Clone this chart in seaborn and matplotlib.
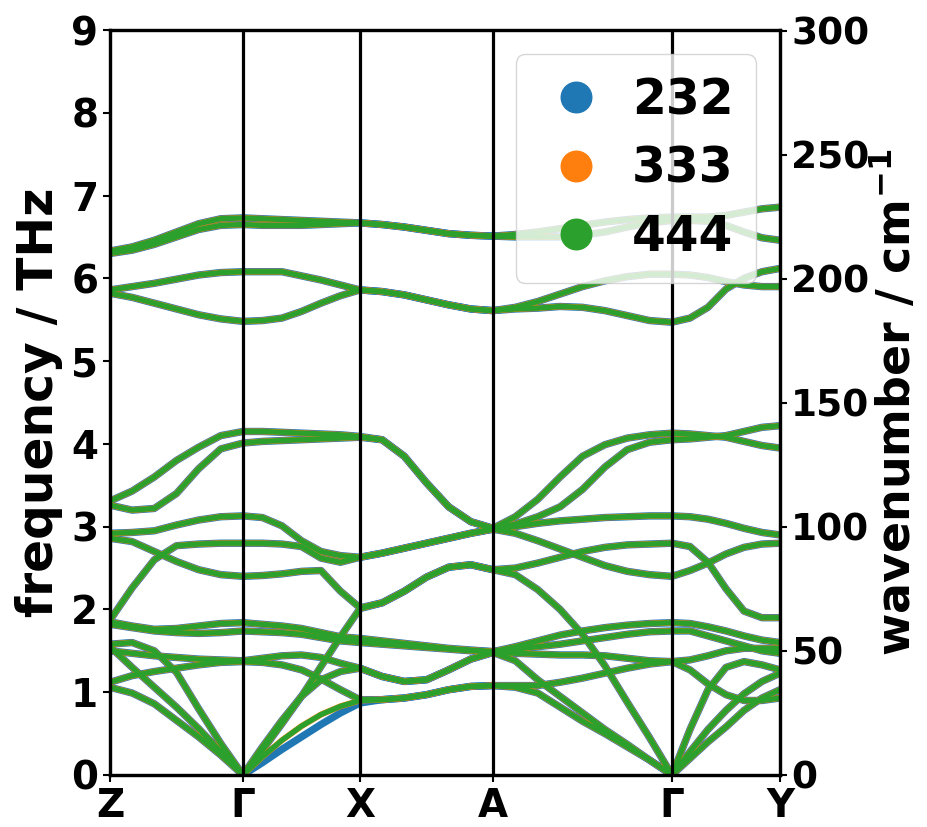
import numpy as np
import pandas as pd
import matplotlib
matplotlib.use("Agg")
import matplotlib.pyplot as plt
from matplotlib.lines import Line2D
import seaborn as sns

# ---------------------------------------------------------------------------
# High-symmetry path and sampling
# ---------------------------------------------------------------------------
path_labels = ["Z", "Γ", "X", "A", "Γ", "Y"]
segment_lengths = [1.33, 1.17, 1.33, 1.79, 1.08]   # Z-Γ, Γ-X, X-A, A-Γ, Γ-Y
segment_intervals = [6, 6, 6, 8, 6]

mesh_labels = ["232", "333", "444"]
mesh_colors = ["#1f77b4", "#ff7f0e", "#2ca02c"]
mesh_widths = [5.3, 4.3, 3.8]

THZ_TO_CM = 33.35641

# ---------------------------------------------------------------------------
# Phonon branches (THz), sampled along Z-Γ | Γ-X | X-A | A-Γ | Γ-Y
# ---------------------------------------------------------------------------
band_ta1 = [1.06, 0.99, 0.86, 0.66, 0.46, 0.24, 0.00,
            0.22, 0.42, 0.59, 0.73, 0.83, 0.90,
            0.91, 0.93, 0.97, 1.03, 1.07, 1.08,
            1.06, 0.99, 0.82, 0.65, 0.50, 0.34, 0.18, 0.00,
            0.20, 0.40, 0.58, 0.78, 0.93, 1.03]
band_g = [1.12, 1.20, 1.25, 1.29, 1.33, 1.36, 1.37,
          1.36, 1.33, 1.27, 1.16, 1.03, 0.91,
          0.91, 0.93, 0.97, 1.03, 1.07, 1.08,
          1.08, 1.08, 1.12, 1.17, 1.23, 1.29, 1.34, 1.37,
          1.39, 1.44, 1.50, 1.53, 1.53, 1.53]
band_ta2 = [1.58, 1.60, 1.50, 1.24, 0.80, 0.38, 0.00,
            0.34, 0.66, 0.95, 1.15, 1.25, 1.29,
            1.19, 1.13, 1.15, 1.27, 1.40, 1.48,
            1.38, 1.15, 0.95, 0.75, 0.55, 0.37, 0.18, 0.00,
            0.28, 0.55, 0.78, 0.98, 1.13, 1.23]
band_j = [1.50, 1.47, 1.44, 1.42, 1.40, 1.39, 1.38,
          1.41, 1.44, 1.45, 1.42, 1.35, 1.29,
          1.19, 1.13, 1.15, 1.27, 1.40, 1.48,
          1.47, 1.46, 1.45, 1.45, 1.44, 1.41, 1.38, 1.37,
          1.27, 1.10, 0.97, 0.90, 0.90, 0.93]
band_la = [1.55, 1.30, 1.06, 0.82, 0.56, 0.28, 0.00,
           0.30, 0.62, 0.95, 1.31, 1.67, 2.01,
           2.08, 2.22, 2.39, 2.51, 2.54, 2.48,
           2.42, 2.24, 2.00, 1.70, 1.32, 0.88, 0.45, 0.00,
           0.55, 1.03, 1.30, 1.37, 1.33, 1.27]
band_e = [1.82, 1.78, 1.74, 1.72, 1.71, 1.72, 1.74,
          1.73, 1.72, 1.70, 1.66, 1.62, 1.60,
          1.58, 1.56, 1.54, 1.52, 1.50, 1.49,
          1.52, 1.55, 1.58, 1.62, 1.66, 1.70, 1.73, 1.74,
          1.74, 1.68, 1.62, 1.56, 1.50, 1.47]
band_d = [1.85, 1.80, 1.76, 1.77, 1.80, 1.83, 1.84,
          1.82, 1.80, 1.77, 1.72, 1.67, 1.65,
          1.62, 1.59, 1.56, 1.53, 1.51, 1.49,
          1.55, 1.62, 1.69, 1.74, 1.78, 1.81, 1.83, 1.84,
          1.83, 1.79, 1.74, 1.68, 1.63, 1.60]
band_b = [2.86, 2.82, 2.70, 2.58, 2.48, 2.42, 2.40,
          2.41, 2.43, 2.46, 2.47, 2.22, 2.02,
          2.08, 2.22, 2.39, 2.51, 2.54, 2.48,
          2.50, 2.56, 2.63, 2.70, 2.75, 2.78, 2.79, 2.80,
          2.76, 2.57, 2.25, 1.98, 1.90, 1.90]
band_c = [1.87, 2.26, 2.60, 2.77, 2.79, 2.80, 2.80,
          2.80, 2.79, 2.76, 2.62, 2.57, 2.63,
          2.68, 2.74, 2.80, 2.86, 2.92, 2.97,
          2.92, 2.83, 2.73, 2.63, 2.53, 2.46, 2.42, 2.40,
          2.47, 2.56, 2.67, 2.75, 2.79, 2.80]
band_a = [2.92, 2.93, 2.95, 3.02, 3.08, 3.12, 3.13,
          3.11, 3.01, 2.83, 2.70, 2.65, 2.63,
          2.68, 2.74, 2.80, 2.86, 2.92, 2.97,
          3.00, 3.04, 3.07, 3.09, 3.11, 3.12, 3.13, 3.13,
          3.12, 3.09, 3.04, 2.98, 2.93, 2.90]
band_l4 = [3.26, 3.20, 3.22, 3.40, 3.70, 3.94, 4.01,
           4.03, 4.04, 4.05, 4.06, 4.07, 4.08,
           4.05, 3.85, 3.53, 3.24, 3.06, 2.98,
           3.03, 3.12, 3.24, 3.45, 3.72, 3.93, 4.02, 4.05,
           4.06, 4.08, 4.10, 4.15, 4.20, 4.22]
band_u4 = [3.31, 3.43, 3.60, 3.80, 3.96, 4.10, 4.15,
           4.15, 4.14, 4.13, 4.12, 4.11, 4.09,
           4.05, 3.85, 3.53, 3.24, 3.06, 2.98,
           3.12, 3.33, 3.60, 3.85, 3.99, 4.07, 4.11, 4.13,
           4.12, 4.10, 4.08, 4.03, 3.98, 3.95]
band_m_low = [5.82, 5.77, 5.70, 5.63, 5.56, 5.51, 5.48,
              5.49, 5.52, 5.60, 5.70, 5.79, 5.86,
              5.84, 5.80, 5.74, 5.68, 5.63, 5.61,
              5.63, 5.64, 5.66, 5.65, 5.61, 5.55, 5.49, 5.47,
              5.52, 5.65, 5.87, 6.00, 6.08, 6.12]
band_m_up = [5.86, 5.90, 5.94, 5.99, 6.04, 6.07, 6.08,
             6.08, 6.08, 6.03, 5.98, 5.92, 5.86,
             5.84, 5.80, 5.74, 5.68, 5.63, 5.61,
             5.65, 5.72, 5.81, 5.90, 5.97, 6.02, 6.05, 6.05,
             6.04, 6.01, 5.96, 5.92, 5.90, 5.90]
band_h_low = [6.30, 6.34, 6.41, 6.50, 6.59, 6.64, 6.65,
              6.64, 6.64, 6.64, 6.65, 6.66, 6.67,
              6.65, 6.62, 6.58, 6.54, 6.52, 6.51,
              6.50, 6.50, 6.50, 6.52, 6.56, 6.62, 6.67, 6.70,
              6.70, 6.69, 6.64, 6.56, 6.49, 6.46]
band_h_up = [6.33, 6.38, 6.46, 6.56, 6.66, 6.72, 6.73,
             6.72, 6.71, 6.70, 6.69, 6.68, 6.67,
             6.65, 6.62, 6.58, 6.54, 6.52, 6.51,
             6.53, 6.56, 6.60, 6.64, 6.68, 6.71, 6.73, 6.74,
             6.74, 6.74, 6.76, 6.80, 6.84, 6.86]

# the coarse 232 mesh gives a softer lowest branch along Γ-X
ta1_gx_232 = [0.15, 0.31, 0.46, 0.61, 0.75, 0.87]

bands_common = {
    "ta1": band_ta1, "g": band_g, "ta2": band_ta2, "j": band_j,
    "la": band_la, "e": band_e, "d": band_d, "b": band_b, "c": band_c,
    "a": band_a, "l4": band_l4, "u4": band_u4, "m_low": band_m_low,
    "m_up": band_m_up, "h_low": band_h_low, "h_up": band_h_up,
}

# ---------------------------------------------------------------------------
# Path coordinate of every sampled q-point
# ---------------------------------------------------------------------------
kdist = [0.0]
start = 0.0
for length, n in zip(segment_lengths, segment_intervals):
    for i in range(1, n + 1):
        kdist.append(start + length * i / n)
    start += length
kdist = np.array(kdist)
node_pos = np.concatenate([[0.0], np.cumsum(segment_lengths)])

rows = []
for mesh in mesh_labels:
    for name, freqs in bands_common.items():
        freqs = list(freqs)
        if mesh == "232" and name == "ta1":
            freqs[7:13] = ta1_gx_232
        for kk, f in zip(kdist, freqs):
            rows.append({"mesh": mesh, "band": name, "k": kk, "freq": f})
df = pd.DataFrame(rows)

# ---------------------------------------------------------------------------
# Figure
# ---------------------------------------------------------------------------
sns.set_style("ticks")
plt.rcParams["font.family"] = ["DejaVu Sans"]
plt.rcParams.update({
    "font.weight": "bold",
    "axes.labelweight": "bold",
    "mathtext.default": "regular",
    "text.color": "black",
    "axes.labelcolor": "black",
    "axes.edgecolor": "black",
    "xtick.color": "black",
    "ytick.color": "black",
})

fig = plt.figure(figsize=(9.28, 8.27), dpi=100)
ax = fig.add_axes([0.1185, 0.0629, 0.722, 0.9008])

sns.lineplot(
    data=df, x="k", y="freq", hue="mesh", size="mesh", units="band",
    estimator=None, sort=False,
    palette=dict(zip(mesh_labels, mesh_colors)),
    sizes=dict(zip(mesh_labels, mesh_widths)),
    hue_order=mesh_labels, size_order=mesh_labels,
    legend=False, ax=ax,
)

for pos in node_pos[1:-1]:
    ax.axvline(pos, color="black", lw=2.3, zorder=5)

ax.set_xlim(node_pos[0], node_pos[-1])
ax.set_ylim(0, 9)
ax.set_xticks(node_pos)
ax.set_xticklabels(path_labels)
ax.set_yticks(range(0, 10))
ax.set_xlabel("")
ax.set_ylabel("frequency / THz", fontsize=35, fontweight="bold", labelpad=6)
ax.tick_params(axis="both", labelsize=28, width=1.5, length=5)
for lab in ax.get_xticklabels() + ax.get_yticklabels():
    lab.set_fontweight("bold")
for side in ax.spines.values():
    side.set_linewidth(2.3)

ax2 = ax.twinx()
ax2.set_ylim(0, 9 * THZ_TO_CM)
ax2.set_yticks(range(0, 301, 50))
ax2.set_ylabel("wavenumber / cm$^{-1}$", fontsize=33, fontweight="bold",
               labelpad=2)
ax2.tick_params(axis="y", labelsize=27, width=1.5, length=5, pad=3)
for lab in ax2.get_yticklabels():
    lab.set_fontweight("bold")
for side in ax2.spines.values():
    side.set_linewidth(2.3)

handles = [Line2D([], [], marker="o", ls="", color=c, markersize=22)
           for c in mesh_colors]
ax2.legend(handles, mesh_labels, loc="upper right",
           prop={"weight": "bold", "size": 35},
           labelspacing=0.42, handletextpad=0.35, borderpad=0.45,
           handlelength=1.6)

fig.savefig("out.png", dpi=100)
